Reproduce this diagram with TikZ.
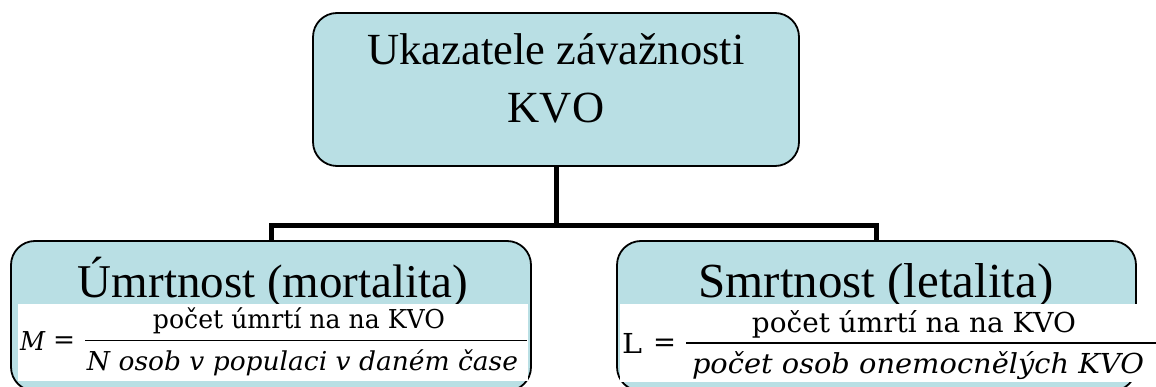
\documentclass[tikz,border=0pt]{standalone}
\usepackage{fontspec}
\usepackage{graphicx}
\setmainfont{Liberation Serif}
\newfontfamily\formulafont{DejaVu Serif}
\definecolor{boxfill}{RGB}{185,223,228}

% formula type sizes (left and right panels)
\newcommand\fmleft{\formulafont\fontsize{26}{31}\selectfont}
\newcommand\fmright{\formulafont\fontsize{27.5}{33}\selectfont}
% stretch a piece of text to a given width, keeping its height
\newcommand\fitw[2]{\resizebox{#1}{\height}{#2}}

\begin{document}
\begin{tikzpicture}[x=1pt,y=-1pt,
  box/.style={draw=black, line width=1.8pt, fill=boxfill, rounded corners=24pt, inner sep=0pt},
  conn/.style={line width=5pt, line join=miter},
  panel/.style={fill=white, draw=none, inner sep=0pt},
  lbl/.style={inner sep=0pt, anchor=base},
  fracrule/.style={line width=1.5pt}
]
\useasboundingbox (0,0) rectangle (1156,387);
\clip (0,0) rectangle (1156,387);

% boxes
\node[box, minimum width=486pt, minimum height=153pt] (top) at (556,89.5) {};
\node[box, minimum width=520pt, minimum height=150pt] (mort) at (271,316) {};
\node[box, minimum width=519pt, minimum height=150pt] (leta) at (876.5,316) {};

% connectors
\coordinate (bus) at (556,225.5);
\draw[conn] (top.south) -- (bus);
\draw[conn] (mort.north) |- (bus) -| (leta.north);

% titles
\node[lbl, font=\fontsize{44.5}{53}\selectfont] (t1) at (556,65) {Ukazatele závažnosti};
\node[lbl, font=\fontsize{44.5}{53}\selectfont] (t2) at (556,123) {KVO};
\node[lbl, font=\fontsize{47}{56}\selectfont] (mt) at (273,298) {Úmrtnost (mortalita)};
\node[lbl, font=\fontsize{49}{58}\selectfont] (st) at (876,298) {Smrtnost (letalita)};

% white formula panels
\node[panel, minimum width=510pt, minimum height=77pt] (mp) at (273,342.5) {};
\node[panel, minimum width=540pt, minimum height=78pt] (lp) at (890,343) {};

% mortality formula
\node[lbl, anchor=base west, font=\fmleft\itshape] (mM) at (20,350) {\fitw{25pt}{M}};
\node[lbl, font=\fmleft] (meq) at (64,348) {\fitw{22pt}{=}};
\node[lbl, font=\fmleft] (mnum) at (299,328) {\fitw{292pt}{počet úmrtí na na KVO}};
\node[lbl, font=\fmleft\itshape] (mden) at (302.5,370) {\fitw{431pt}{N osob v populaci v daném čase}};
\coordinate (mr1) at (85,340.7);
\coordinate (mr2) at (527,340.7);
\draw[fracrule] (mr1) -- (mr2);

% lethality formula
\node[lbl, anchor=base west, font=\fmright] (lL) at (622,353) {\fitw{20pt}{L}};
\node[lbl, font=\fmright] (leq) at (664.5,351) {\fitw{23pt}{=}};
\node[lbl, font=\fmright] (lnum) at (914,333) {\fitw{324pt}{počet úmrtí na na KVO}};
\node[lbl, font=\fmright\itshape] (lden) at (918,373) {\fitw{452pt}{počet osob onemocnělých KVO}};
\coordinate (lr1) at (686,343);
\coordinate (lr2) at (1160,343);
\draw[fracrule] (lr1) -- (lr2);
\end{tikzpicture}
\end{document}
